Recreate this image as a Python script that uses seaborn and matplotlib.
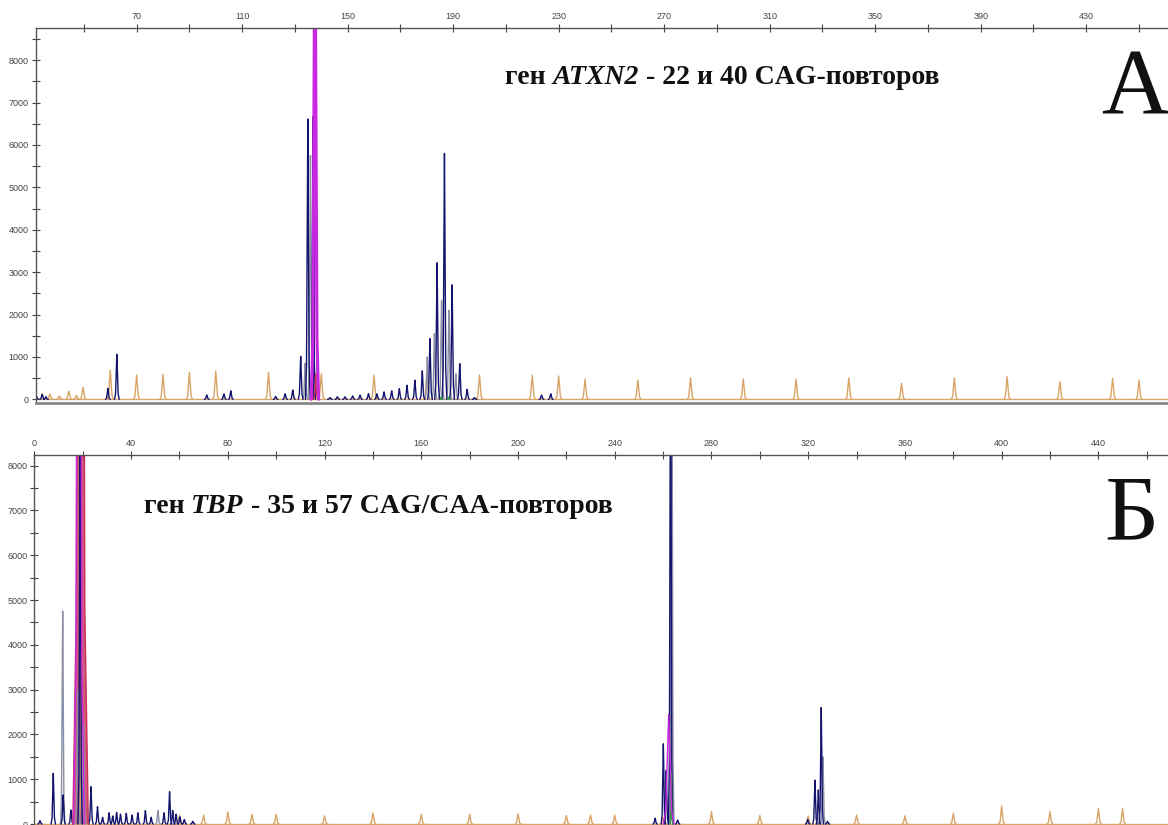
import numpy as np
import pandas as pd
import matplotlib
matplotlib.use("Agg")
import matplotlib.pyplot as plt
import seaborn as sns

# ---------------- data ----------------
# Panel A: gene ATXN2  (x = fragment size, y = RFU)
a_navy_pos = [32.0, 34.2, 35.6, 59.1, 62.5, 96.6, 103.1, 105.7, 122.7, 126.3, 129.2, 132.2,
              134.9, 136.9, 137.8, 143.3, 146.1, 149.0, 151.9, 154.7, 157.9, 161.1, 163.8,
              166.7, 169.6, 172.5, 175.5, 178.3, 181.2, 183.9, 186.7, 189.6, 192.5, 195.3,
              198.1, 223.5, 227.0]
a_navy_h = [80, 120, 60, 260, 1060, 100, 125, 200, 70, 130, 220, 1015,
            6610, 6665, 9500, 40, 60, 60, 80, 100, 135, 130, 175,
            200, 250, 330, 450, 670, 1430, 3220, 5800, 2700, 840, 236,
            40, 100, 130]
a_gray_pos = [133.9, 135.9, 180.2, 182.9, 185.6, 188.4, 191.0]
a_gray_h = [850, 5750, 1000, 1550, 2330, 2100, 600]
a_std_pos = [37.1, 40.7, 44.3, 47.2, 49.7, 60, 70, 80, 90, 100, 120, 140, 160, 180, 200,
             220, 230, 240, 260, 280, 300, 320, 340, 360, 380, 400, 420, 440, 450]
a_std_h = [120, 80, 190, 90, 280, 690, 570, 590, 635, 665, 635, 600, 570, 570, 570,
           570, 550, 480, 455, 510, 480, 480, 510, 377, 510, 533, 415, 495, 455]
a_mag_pos = [137.6]
a_mag_h = [12000]
a_red_pos = [137.9]
a_red_h = [600]
a_green_pos = [185.5, 188.3]
a_green_h = [60, 50]

# Panel B: gene TBP
b_navy_pos = [2.3, 7.8, 11.9, 15.1, 18.9, 23.4, 26.1, 28.2, 30.9, 32.4, 34.0, 35.6, 38.0,
              40.4, 42.8, 45.9, 48.3, 53.6, 55.9, 57.2, 58.6, 60.2, 62.0, 65.5, 256.7,
              260.1, 261.3, 263.1, 266.0, 319.8, 322.8, 324.2, 325.4, 328.0]
b_navy_h = [75, 1130, 650, 312, 9000, 833, 387, 150, 250, 180, 260, 220, 240,
            200, 250, 300, 150, 250, 720, 300, 220, 160, 100, 60, 130,
            1790, 1200, 12000, 90, 100, 980, 760, 2600, 60]
b_gray_pos = [11.7, 17.9, 20.3, 51.1, 263.6, 326.1]
b_gray_h = [4750, 3000, 2200, 300, 12000, 1500]
b_std_pos = [19.6, 60, 70, 80, 90, 100, 120, 140, 160, 180, 200, 220, 230, 240, 260, 280,
             300, 320, 340, 360, 380, 400, 420, 440, 450]
b_std_h = [3700, 200, 200, 270, 215, 215, 180, 250, 215, 215, 225, 190, 200, 200, 150, 275,
           190, 180, 200, 180, 240, 400, 275, 350, 350]
b_mag_pos = [18.4, 262.3]
b_mag_h = [30000, 2450]
b_red_pos = [19.1]
b_red_h = [40000]
b_green_pos = [263.4]
b_green_h = [1100]

a_ticks = [70, 110, 150, 190, 230, 270, 310, 350, 390, 430]
b_ticks = [0, 40, 80, 120, 160, 200, 240, 280, 320, 360, 400, 440]
y_ticks = [0, 1000, 2000, 3000, 4000, 5000, 6000, 7000, 8000]

title_a = [("ген ", "normal", "bold"), ("ATXN2", "italic", "bold"),
           (" - 22 и 40 CAG-повторов", "normal", "bold")]
title_b = [("ген ", "normal", "bold"), ("TBP", "italic", "bold"),
           (" - 35 и 57 CAG/CAA-повторов", "normal", "bold")]
letter_a = "А"
letter_b = "Б"

# ---------------- style ----------------
sns.set_style("white")
plt.rcParams["font.family"] = ["Liberation Sans", "DejaVu Sans"]

W, H = 1168, 825
colors = {"std": "#d9a468", "gray": "#8a8fa6", "navy": "#14146e",
          "red": "#c8305a", "green": "#2e9a4a", "mag": "#c828e0"}
widths = {"std": 1.2, "gray": 0.9, "navy": 0.9, "red": 0.8, "green": 0.5, "mag": 0.9}
tmpl_dx = np.array([-1.0, -0.55, -0.25, 0.0, 0.25, 0.55, 1.0])
tmpl_fy = np.array([0.0, 0.12, 0.6, 1.0, 0.6, 0.12, 0.0])


def peaks_frame(channels, wscale=None):
    rows = []
    pid = 0
    for ch, (pos, hts) in channels.items():
        w = widths[ch] if wscale is None or ch not in wscale else wscale[ch]
        for p, h in zip(pos, hts):
            for dx, fy in zip(tmpl_dx, tmpl_fy):
                rows.append({"x": p + dx * w, "y": h * fy, "ch": ch, "pid": pid})
            pid += 1
    return pd.DataFrame(rows)


fig = plt.figure(figsize=(W / 100, H / 100), dpi=100)
fig.patch.set_facecolor("white")

axA = fig.add_axes([35.6 / W, 1 - 402.7 / H, 1 - 35.6 / W, (402.7 - 28.3) / H])
axB = fig.add_axes([34.4 / W, 0.0, 1 - 34.4 / W, (825 - 455) / H])

order = ["std", "gray", "navy", "red", "green", "mag"]

# Panel A
dfA = peaks_frame({"std": (a_std_pos, a_std_h), "gray": (a_gray_pos, a_gray_h),
                   "navy": (a_navy_pos, a_navy_h), "red": (a_red_pos, a_red_h),
                   "green": (a_green_pos, a_green_h), "mag": (a_mag_pos, a_mag_h)},
                  wscale={"mag": 1.4})
axA.axhline(0, color=colors["std"], lw=1.0, zorder=1)
sns.lineplot(data=dfA, x="x", y="y", hue="ch", units="pid", estimator=None, sort=False,
             palette=colors, hue_order=order, legend=False, ax=axA, linewidth=1.0)
for ln in axA.lines:
    if ln.get_color() == colors["mag"]:
        ln.set_linewidth(2.2)

# Panel B
dfB = peaks_frame({"std": (b_std_pos, b_std_h), "gray": (b_gray_pos, b_gray_h),
                   "navy": (b_navy_pos, b_navy_h), "red": (b_red_pos, b_red_h),
                   "green": (b_green_pos, b_green_h), "mag": (b_mag_pos, b_mag_h)},
                  wscale={"red": 3.2, "mag": 2.2})
red_b = dfB[dfB.ch == "red"]
axB.fill_between(red_b.x, 0, red_b.y, color=colors["red"], alpha=0.8, lw=0, zorder=1)
sns.lineplot(data=dfB, x="x", y="y", hue="ch", units="pid", estimator=None, sort=False,
             palette=colors, hue_order=order, legend=False, ax=axB, linewidth=1.0)
axB.axhline(0, color=colors["std"], lw=1.0, zorder=1)

# axes cosmetics
for ax, xl, yl, xt in [(axA, (31.7, 461.0), (-80, 8750), a_ticks),
                       (axB, (0.0, 468.8), (-22, 8237), b_ticks)]:
    ax.xaxis.tick_top()
    ax.set_xticks(xt)
    ax.set_xticks([t + 20 for t in xt] + [xt[0] - 20], minor=True)
    ax.set_xticklabels([str(t) for t in xt])
    ax.set_yticks(y_ticks)
    ax.set_yticks([t + 500 for t in y_ticks], minor=True)
    ax.set_yticklabels([str(t) for t in y_ticks])
    ax.set_xlim(*xl)
    ax.set_ylim(*yl)
    ax.tick_params(axis="both", which="both", direction="inout", length=6, width=0.8,
                   colors="#444444", labelsize=6.5, pad=2)
    ax.tick_params(axis="x", which="both", top=True, bottom=False, labeltop=True,
                   labelbottom=False)
    ax.tick_params(axis="y", which="both", left=True, right=False)
    ax.set_xlabel("")
    ax.set_ylabel("")
    ax.spines["right"].set_visible(False)
    for s in ("top", "left"):
        ax.spines[s].set_color("#555555")
        ax.spines[s].set_linewidth(1.0)
    ax.set_facecolor("white")
axA.spines["bottom"].set_color("#888888")
axA.spines["bottom"].set_linewidth(2.0)
axB.spines["bottom"].set_visible(False)

# titles
renderer = fig.canvas.get_renderer()


def rich(x_px, y_px, parts, size):
    x = x_px
    for s, style, weight in parts:
        t = fig.text(x / W, 1 - y_px / H, s, fontsize=size, family="Liberation Serif",
                     style=style, weight=weight, va="baseline", ha="left", color="#111111")
        bb = t.get_window_extent(renderer=renderer)
        x += bb.width


rich(505, 84, title_a, 20)
rich(143.5, 513, title_b, 20)

fig.text(1101 / W, 1 - 114 / H, letter_a, fontsize=68, family="Liberation Serif",
         va="baseline", ha="left", color="#111111")
fig.text(1104 / W, 1 - 539 / H, letter_b, fontsize=68, family="Liberation Serif",
         va="baseline", ha="left", color="#111111")

fig.savefig("out.png", dpi=100, facecolor="white")
